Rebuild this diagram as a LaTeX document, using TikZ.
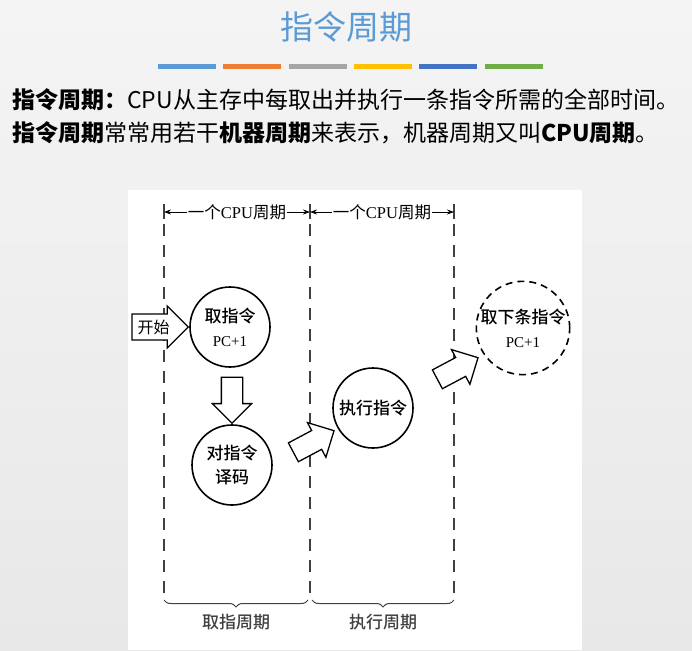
\documentclass[tikz,border=0pt]{standalone}
\usepackage{fontspec}
\setmainfont{Liberation Serif}
\newfontfamily\cjk{Noto Sans CJK SC}
\newfontfamily\cjkmid{Noto Sans CJK SC}[UprightFont=* Medium]
\usetikzlibrary{shapes.arrows,decorations.pathreplacing,arrows.meta,calc}
\definecolor{titleblue}{HTML}{5B9BD5}
\definecolor{barA}{HTML}{5B9BD5}
\definecolor{barB}{HTML}{ED7D31}
\definecolor{barC}{HTML}{A5A5A5}
\definecolor{barD}{HTML}{FFC000}
\definecolor{barE}{HTML}{4472C4}
\definecolor{barF}{HTML}{70AD47}
\definecolor{bgtop}{HTML}{F4F4F4}
\definecolor{bgbot}{HTML}{E8E8E8}

\begin{document}
\begin{tikzpicture}[x=1pt,y=-1pt,
  stage/.style={circle, draw, line width=1.6pt, minimum size=80pt, inner sep=0pt, align=center, font=\fontsize{15}{24}\selectfont},
  bigarrow/.style={single arrow, draw, line width=1.3pt, fill=white, inner sep=10pt, minimum height=46pt, single arrow head extend=9pt},
  divider/.style={line width=1.2pt, dash pattern=on 12pt off 9pt, black!75},
  tick/.style={line width=1.2pt, black!75},
  span/.style={line width=0.8pt, {Stealth[length=7pt,width=5pt]}-{Stealth[length=7pt,width=5pt]}},
  brace/.style={decorate, decoration={brace, mirror, amplitude=7pt}, line width=1pt, black!75}]

\useasboundingbox (0,0) rectangle (692,650);
\fill[top color=bgtop, bottom color=bgbot] (0,0) rectangle (692,650);

%title and coloured bars
\node[font=\cjk\fontsize{33}{33}\selectfont, text=titleblue] (title) at (346,27) {指令周期};
\foreach \c [count=\i] in {barA,barB,barC,barD,barE,barF}
  \fill[\c] (158+65.3*\i-65.3,64) rectangle +(58,5);

%text lines
\node[anchor=west, inner sep=0pt, font=\cjk\fontsize{23}{23}\selectfont] (line1) at (12,100)
  {\textbf{指令周期：}CPU从主存中每取出并执行一条指令所需的全部时间。};
\node[anchor=west, inner sep=0pt, font=\cjk\fontsize{23}{23}\selectfont] (line2) at (12,133)
  {\textbf{指令周期}常常用若干\textbf{机器周期}来表示，机器周期又叫\textbf{CPU周期}。};

%picture area
\fill[white] (128,190) rectangle (582,650);

%dividers
\foreach \n/\x in {1/164,2/310,3/454}{
  \coordinate (u\n) at (\x,212);
  \coordinate (d\n) at (\x,600);
  \draw[tick] (\x,204) -- (\x,219);
  \draw[divider] (\x,224) -- (d\n);
}

%cpu cycles on top
\draw[span] (u1) -- (u2) node[midway, fill=white, inner sep=1pt, font=\fontsize{16.5}{17}\selectfont] (cyc1) {{\cjk 一个}CPU{\cjk 周期}};
\draw[span] (u2) -- (u3) node[midway, fill=white, inner sep=1pt, font=\fontsize{16.5}{17}\selectfont] (cyc2) {{\cjk 一个}CPU{\cjk 周期}};

%stages
\node[stage] (fetch) at (230,327) {{\cjkmid\fontsize{17}{24}\selectfont 取指令}\\PC+1};
\node[stage] (decode) at (232,465) {{\cjkmid\fontsize{17}{24}\selectfont 对指令}\\{\cjkmid\fontsize{17}{24}\selectfont 译码}};
\node[stage] (exec) at (373,408) {{\cjkmid\fontsize{17}{24}\selectfont 执行指令}};
\node[stage, dashed, dash pattern=on 7pt off 5pt, minimum size=92pt] (next) at (523,328) {{\cjkmid\fontsize{17}{24}\selectfont 取下条指令}\\PC+1};

%fat arrows
\node[bigarrow, inner sep=5pt, minimum height=55pt, single arrow head extend=8pt, anchor=tip,
  font=\cjk\fontsize{16}{16}\selectfont] (start) at (fetch.west) {开始};
\node[bigarrow, rotate=-90, anchor=tip] (go1) at (decode.north) {};
\node[bigarrow, rotate=28] (go2) at (309,444) {};
\node[bigarrow, rotate=28] (go3) at (453,371) {};

%braces below
\draw[brace] (d1) -- ($(d2)+(-2,0)$) node[midway, below=10pt, font=\cjkmid\fontsize{17}{17}\selectfont] (phase1) {取指周期};
\draw[brace] ($(d2)+(2,0)$) -- (d3) node[midway, below=10pt, font=\cjkmid\fontsize{17}{17}\selectfont] (phase2) {执行周期};

\end{tikzpicture}
\end{document}
